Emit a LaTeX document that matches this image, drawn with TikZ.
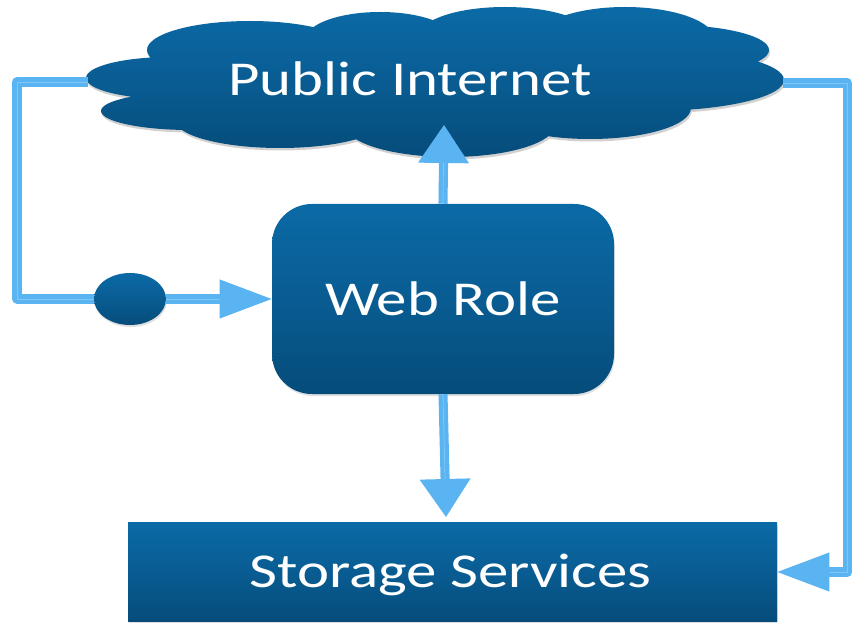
\documentclass[tikz,border=0pt]{standalone}
\usepackage{fontspec}
\setmainfont[FakeStretch=1.25]{Carlito}
\usetikzlibrary{shapes}
\usetikzlibrary{arrows.meta}
\usetikzlibrary{shadows}
\newcommand{\cloudlobes}{
	(170,78) ellipse (84 and 21)
	(190,111) ellipse (89 and 19)
	(250,50) ellipse (103 and 29)
	(380,40) ellipse (75 and 28)
	(505,35) ellipse (85 and 28)
	(625,40) ellipse (90 and 33)
	(670,50) ellipse (99 and 25)
	(650,80) ellipse (134 and 31)
	(590,108) ellipse (101 and 31)
	(450,125) ellipse (105 and 32)
	(280,120) ellipse (105 and 28)
	(430,80) ellipse (250 and 50)
}

\begin{document}
\begin{tikzpicture}[x=0.75pt,y=-0.75pt]
			\tikzstyle{glow}=[top color=boxtop,bottom color=boxbottom,middle color=boxmiddle,draw=none]
			\tikzstyle{boxshadow}=[drop shadow={shadow xshift=0.6pt,shadow yshift=-1.5pt,opacity=0.25}]
			\tikzstyle{every node}=[inner sep=0pt,text=white]
			\tikzstyle{role}=[glow,boxshadow,rounded corners=30pt,minimum width=256.5pt,minimum height=142.5pt]
			\tikzstyle{storage}=[glow,boxshadow,rectangle,minimum width=486.75pt,minimum height=74.25pt]
			\tikzstyle{balancer}=[glow,boxshadow,ellipse,minimum width=54pt,minimum height=39pt]
			\tikzstyle{label}=[font=\fontsize{36.5}{42}\selectfont]
			\tikzstyle{flow}=[draw=flowblue,double=flowpale,line width=3.1pt,double distance=0.6pt,line join=round]
			\tikzstyle{flowtip}=[flow,-{Triangle[length=39pt,width=28.5pt]}]
			\tikzstyle{flowtipup}=[flow,-{Triangle[length=28.5pt,width=37.5pt]}]
			\definecolor{boxtop}{RGB}{11,106,166}
			\definecolor{boxmiddle}{RGB}{9,92,146}
			\definecolor{boxbottom}{RGB}{5,76,122}
			\definecolor{flowblue}{RGB}{91,180,242}
			\definecolor{flowpale}{RGB}{128,198,246}

			\useasboundingbox (0,0) rectangle (852,623);
			\fill[white] (0,0) rectangle (852,623);

			\fill[black,opacity=0.18,shift={(1,2.5)}] \cloudlobes;
			\shade[top color=boxtop,bottom color=boxbottom,middle color=boxmiddle] \cloudlobes;

			\node[label] (cloud) at (410,79) {Public Internet};
			\node[role,label] (web) at (443,299) {Web Role};
			\node[storage,label] (store) at (452.5,572) {\raisebox{-11.25pt}[0pt][0pt]{Storage Services\hspace{3pt}}};
			\node[balancer] (lb) at (130,299) {};

			\coordinate (cloudL) at (88,82);
			\coordinate (cloudR) at (783,83);
			\coordinate (cloudB) at (444,125);
			\coordinate (leftTop) at (17,82);
			\coordinate (leftBot) at (17,299);
			\coordinate (rightTop) at (847.5,83);
			\coordinate (rightBot) at (847.5,572);
			\coordinate (storeIn) at (446,517);

			\draw[flow] (cloudL) -- (leftTop) -- (leftBot) -- (lb.west);
			\draw[flowtip] (lb.east) -- (web.west);
			\draw[flowtipup] (web.north) -- (cloudB);
			\draw[flowtipup] (web.south) -- (storeIn);
			\draw[flowtip] (cloudR) -- (rightTop) -- (rightBot) -- (store.east);
\end{tikzpicture}
\end{document}
